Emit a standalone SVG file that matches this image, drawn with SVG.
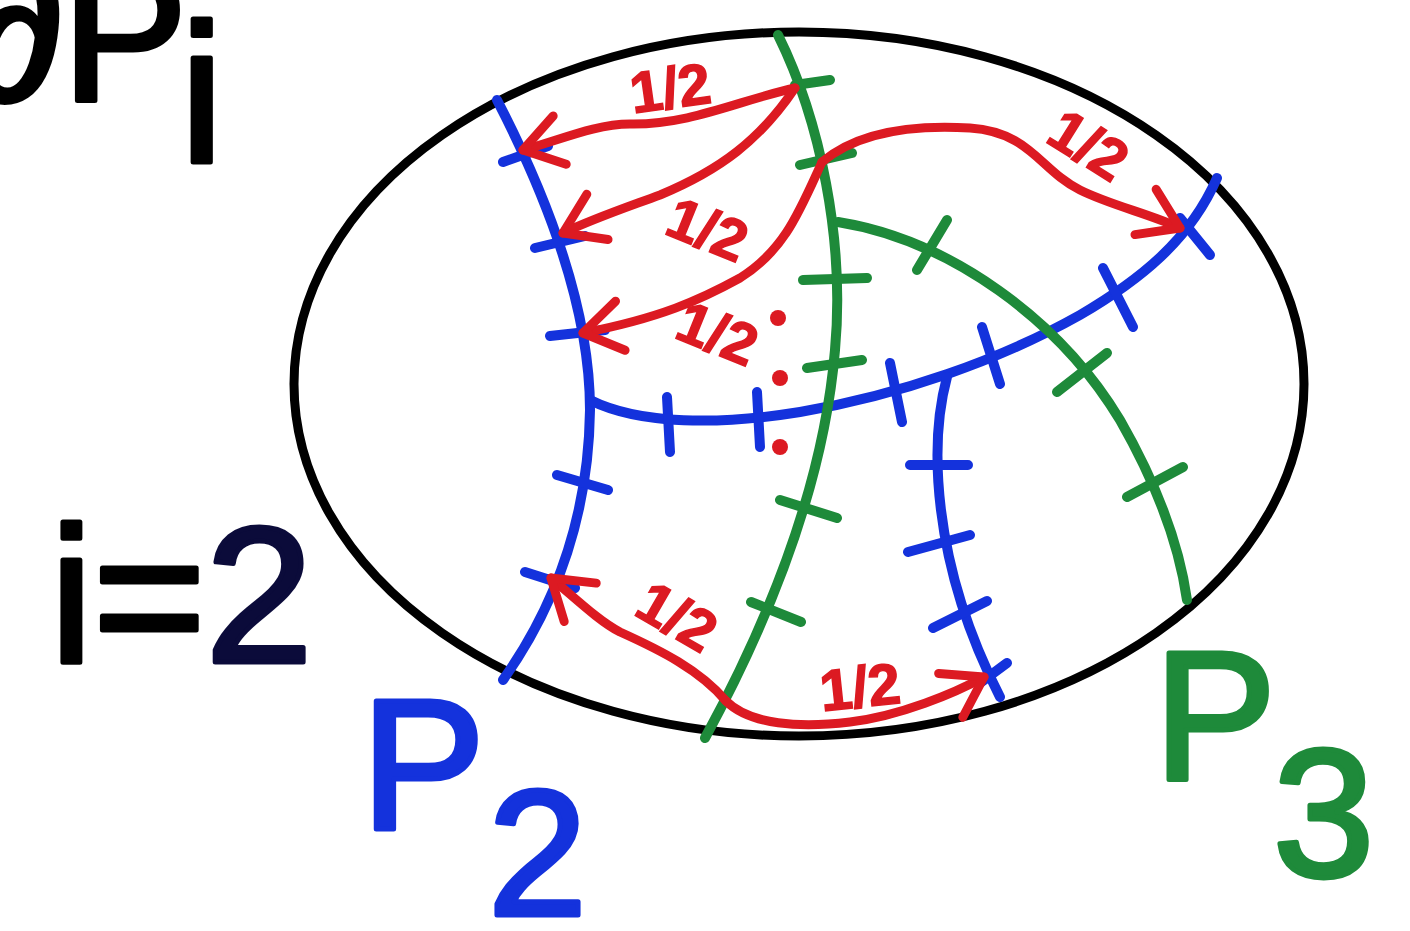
<svg xmlns="http://www.w3.org/2000/svg" width="1410" height="931" viewBox="0 0 1410 931">
<style>
.lbl{font-family:"Liberation Sans",Arial,sans-serif;stroke-width:5;stroke-linejoin:round}
.b{fill:none;stroke:#1432dc;stroke-width:10;stroke-linecap:round;stroke-linejoin:round}
.g{fill:none;stroke:#1e8a3a;stroke-width:10;stroke-linecap:round;stroke-linejoin:round}
.r{fill:none;stroke:#dc1a22;stroke-width:9;stroke-linecap:round;stroke-linejoin:round}
.half{font-family:"Liberation Sans",Arial,sans-serif;font-weight:bold;font-size:58px;fill:#dc1a22;stroke:#dc1a22;stroke-width:1.5}
</style>
<defs>
<marker id="ah" viewBox="-60 -40 80 80" markerWidth="80" markerHeight="80" refX="0" refY="0" orient="auto" markerUnits="userSpaceOnUse">
<path d="M-38,-25 L0,0 L-38,25" fill="none" stroke="#dc1a22" stroke-width="9" stroke-linecap="round" stroke-linejoin="round"/>
</marker>
</defs>
<rect width="1410" height="931" fill="#fff"/>
<g id="title">
<text class="lbl" x="-31" y="100" font-size="188" fill="#000" stroke="#000">∂P</text>
<text class="lbl" x="180" y="162" font-size="196" fill="#000" stroke="#000">i</text>
</g>
<g id="index">
<text class="lbl" x="50" y="662" font-size="193" fill="#000" stroke="#000">i=<tspan fill="#0b0b3a" stroke="#0b0b3a">2</tspan></text>
</g>
<g id="region">
<ellipse cx="799" cy="384" rx="505" ry="352" fill="none" stroke="#000" stroke-width="9"/>
</g>
<g id="P2">
<path class="b" d="M497,100 Q590,280 590,410 Q588,560 503,680"/>
<path class="b" d="M590,400 C640,425 720,425 800,412 C900,395 1000,360 1080,315 C1140,280 1190,240 1217,178"/>
<path class="b" d="M947,377 C930,440 930,560 1000,697"/>
<path class="b" d="M503,162 L548,146 M535,248 L585,236 M550,336 L605,330 M557,475 L608,490 M525,572 L575,588 M667,397 L670,452 M757,392 L760,447 M890,363 L902,422 M982,327 L1000,384 M1103,268 L1133,327 M1180,218 L1210,255 M910,465 L968,465 M908,552 L970,535 M933,628 L987,601 M980,683 L1007,663"/>
<text class="lbl" x="361" y="829" font-size="186" fill="#1432dc" stroke="#1432dc">P</text>
<text class="lbl" x="488" y="915" font-size="178" fill="#1432dc" stroke="#1432dc">2</text>
</g>
<g id="P3">
<path class="g" d="M778,35 C820,120 845,240 835,350 C825,470 780,600 705,738"/>
<path class="g" d="M838,222 C950,240 1060,320 1120,420 C1160,490 1180,550 1187,600"/>
<path class="g" d="M795,85 L830,80 M800,165 L852,153 M803,280 L867,278 M807,368 L862,360 M780,500 L837,518 M751,602 L801,622 M917,270 L947,220 M1057,392 L1107,353 M1127,497 L1183,467"/>
<text class="lbl" x="1154" y="779" font-size="183" fill="#1e8a3a" stroke="#1e8a3a">P</text>
<text class="lbl" x="1273" y="876" font-size="182" fill="#1e8a3a" stroke="#1e8a3a">3</text>
</g>
<g id="connectors">
<path class="r" marker-end="url(#ah)" d="M795,88 C740,100 690,125 630,124 C595,124 560,140 523,150"/>
<path class="r" marker-end="url(#ah)" d="M795,88 C760,140 720,170 660,195 C625,208 595,218 563,233"/>
<path class="r" marker-end="url(#ah)" d="M822,162 C800,210 785,250 740,278 C700,300 660,318 583,333"/>
<path class="r" marker-end="url(#ah)" d="M822,162 C860,130 920,125 970,128 C1030,132 1040,170 1080,190 C1110,205 1150,214 1180,228"/>
<path class="r" marker-end="url(#ah)" d="M726,701 C700,670 660,650 620,632 C600,622 575,598 551,578"/>
<path class="r" marker-end="url(#ah)" d="M726,701 C750,725 800,728 850,722 C900,716 955,693 984,677"/>
<text class="half" transform="translate(673,108) rotate(-8)" text-anchor="middle">1/2</text>
<text class="half" transform="translate(700,248) rotate(22)" text-anchor="middle">1/2</text>
<text class="half" transform="translate(710,352) rotate(22)" text-anchor="middle">1/2</text>
<text class="half" transform="translate(1078,162) rotate(32)" text-anchor="middle">1/2</text>
<text class="half" transform="translate(667,634) rotate(30)" text-anchor="middle">1/2</text>
<text class="half" transform="translate(862,707) rotate(-6)" text-anchor="middle">1/2</text>
<circle cx="778" cy="318" r="8" fill="#dc1a22"/>
<circle cx="780" cy="378" r="8" fill="#dc1a22"/>
<circle cx="780" cy="447" r="8" fill="#dc1a22"/>
</g>
</svg>
